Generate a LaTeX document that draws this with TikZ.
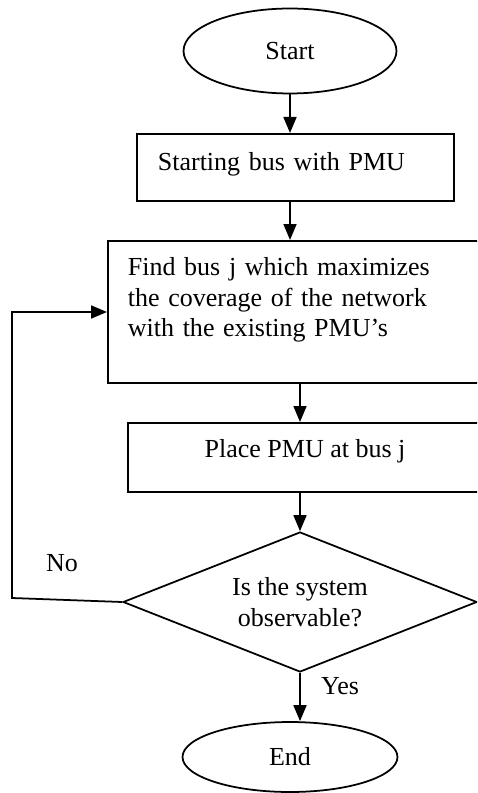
\documentclass[tikz,border=0pt]{standalone}
\usepackage{fontspec}
\setmainfont{Liberation Serif}
\usetikzlibrary{arrows.meta,positioning,calc,shapes.geometric}

\tikzset{
    every node/.style={font=\fontsize{14.8}{17.3}\selectfont},
    terminal/.style={draw, ellipse, line width=1pt, inner sep=0pt},
    procbox/.style={draw, rectangle, line width=1pt, inner ysep=0pt},
    decide/.style={draw, diamond, aspect=2.53, line width=1pt, inner sep=0pt, align=center},
    flowline/.style={-{Triangle[length=0.32cm,width=0.26cm]}, line width=1pt}
}

\begin{document}
\begin{tikzpicture}[x=0.02cm,y=-0.02cm]
        \useasboundingbox (0,0) rectangle (477,793);
        \clip (0,0) rectangle (477,793);

        % Start / End
        \node[terminal, minimum width=4.26cm, minimum height=1.7cm] (start) at (290,51) {Start};
        \node[terminal, minimum width=4.3cm, minimum height=1.4cm] (end) at (290,757) {End};

        % Process boxes
        \node[procbox, anchor=north west, inner xsep=0.42cm, text width=5.5cm, align=left,
              text height=0.74cm, text depth=0.6cm] (startbus) at (136,133) {Starting bus with PMU};
        \node[procbox, anchor=north west, inner xsep=0.4cm, text width=6.86cm, align=left,
              text height=0.7cm, text depth=2.14cm] (find) at (107,240)
              {Find bus j which maximizes\\the coverage of the network\\with the existing PMU’s};
        \node[procbox, minimum width=7.08cm, text height=0.7cm, text depth=0.68cm,
              anchor=north] (place) at (305,422) {Place PMU at bus j};

        % Decision
        \node[decide, minimum width=7.08cm, minimum height=2.8cm] (observe) at (300,602)
              {Is the system\\observable?};

        % Loop corners
        \coordinate (noa) at (12,598);
        \coordinate (nob) at (12,312);

        % Arrows down the main line
        \draw[flowline] (start.south) -- (start.south |- startbus.north);
        \draw[flowline] (startbus.south -| start) -- (start |- find.north);
        \draw[flowline] (find.south -| observe) -- (observe |- place.north);
        \draw[flowline] (place.south -| observe) -- (observe.north);
        \draw[flowline] (observe.south) -- (observe.south |- end.north);

        % No branch back to find
        \draw[flowline] (observe.west) -- (noa) -- (nob) -- (nob -| find.west);

        % Branch labels
        \node (nolabel) at (62,563) {No};
        \node (yeslabel) at (340,686) {Yes};

    \end{tikzpicture}
\end{document}
